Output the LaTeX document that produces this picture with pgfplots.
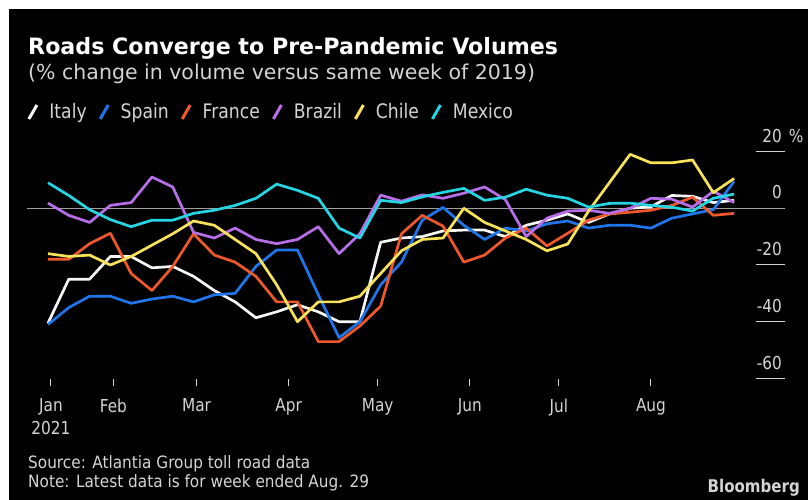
\documentclass[border=0pt]{standalone}
\usepackage{fontspec}
\setmainfont{DejaVu Sans}[FakeStretch=0.86]
\newfontfamily\headfont{DejaVu Sans}[FakeStretch=0.985]
\newfontfamily\subfont{DejaVu Sans}[FakeStretch=1.0]
\newfontfamily\notefont{DejaVu Sans}[FakeStretch=0.9]
\usepackage{pgfplots}
\pgfplotsset{compat=1.18}
\usepackage{pgfplotstable}

\definecolor{italyc}{RGB}{246,246,246}
\definecolor{spainc}{RGB}{30,118,234}
\definecolor{francec}{RGB}{240,88,44}
\definecolor{brazilc}{RGB}{184,110,232}
\definecolor{chilec}{RGB}{247,226,88}
\definecolor{mexicoc}{RGB}{36,214,228}
\definecolor{labelgray}{RGB}{212,212,212}
\definecolor{zerogray}{RGB}{160,160,160}

% weekly toll road volumes, % change vs same week of 2019
% day = days since 1 Jan 2021 (week ended Jan 10 ... Aug 29)
\pgfplotstableread{
day italy spain france brazil chile mexico
9   -40.5 -41   -18   1.8   -16   9
16  -25   -35   -18   -2.5  -17   4.5
23  -25   -31   -12.5 -5    -16.5 -0.5
30  -17   -31   -8.8  1     -20   -4
37  -17   -33.5 -23   2     -17   -6.5
44  -21   -32   -29   11    -13   -4.2
51  -20.5 -31   -20.5 7.5   -9    -4.2
58  -24   -33   -9    -8.5  -4.5  -1.8
65  -29   -30.5 -16.5 -10.5 -6    -0.7
72  -33   -30   -19   -7    -11   1
79  -38.6 -20.5 -24   -11   -16   3.5
86  -36.5 -14.7 -33   -12.5 -27   8.5
93  -34   -14.7 -33   -11   -40   6.3
100 -36.5 -30.5 -47   -6.5  -33   3.5
107 -40   -45.6 -47   -16   -33   -7
114 -40   -40   -41.5 -9    -31   -10.5
121 -12   -27   -34.5 4.6   -23   2.8
128 -10.5 -19   -9    2.5   -15   2
135 -10   -4.2  -2.5  4.7   -11   4
142 -8    0.3   -6.3  3.5   -10.5 5.6
149 -7.7  -6    -19   5.3   0     7
156 -7.7  -11   -16.5 7.5   -5    2.8
163 -10   -7    -10.5 3     -8    3.9
170 -6    -8    -7    -10   -11   6.7
177 -4.2  -5.5  -13.3 -3.5  -15   4.6
184 -2    -4.5  -8.8  -1    -12.6 3.5
191 -5    -7    -4.2  -0.7  -1    0.4
198 -2    -6    -2    -1.8  9     1.7
205 0     -6    -1.4  0     19    1.8
212 0.5   -7    -0.7  3.5   16    1
219 4.5   -3.5  1     3.2   16    0.4
226 4.2   -2    3.9   0.4   17    -1
233 2     -0.5  -2.5  6     5.5   3.5
240 2.8   9.5   -1.8  2     10.5  5
}\roads

\newcommand\px[1]{\fontsize{#1bp}{1.25\dimexpr#1bp\relax}\selectfont}

\begin{document}
\begin{tikzpicture}
\useasboundingbox (0,0) rectangle (808bp,500bp);
\fill[white] (0,0) rectangle (808bp,500bp);
\fill[black] (9bp,0) rectangle (808bp,491bp);

% headings
\node[anchor=base west, inner sep=0pt, text=white] at (28bp,445bp)
  {\headfont\px{22.5}\bfseries Roads Converge to Pre-Pandemic Volumes};
\node[anchor=base west, inner sep=0pt, text=labelgray] at (28bp,420.5bp)
  {\subfont\px{20.5}(\% change in volume versus same week of 2019)};

% footer
\node[anchor=base west, inner sep=0pt, text=labelgray] at (28bp,32bp)
  {\notefont\px{17}Source: Atlantia Group toll road data};
\node[anchor=base west, inner sep=0pt, text=labelgray] at (28bp,13bp)
  {\notefont\px{17}Note: Latest data is for week ended Aug. 29};
\node[anchor=base east, inner sep=0pt, text=labelgray] at (800bp,8bp)
  {\px{17.5}\bfseries Bloomberg};

\begin{axis}[
  at={(27.2bp,121.5bp)}, anchor=south west,
  scale only axis, width=757.4bp, height=241.2bp,
  xmin=2, xmax=257, ymin=-60, ymax=25,
  axis x line*=bottom, axis y line*=right,
  axis line style={draw=none},
  xtick={10,31,59,90,120,151,181,212},
  xticklabels={Jan\\2021,Feb,Mar,Apr,May,Jun,Jul,Aug},
  ytick={-60,-40,-20,0,20},
  yticklabels={-60,-40,-20,0,{20\rlap{\hspace{7bp}\%}}},
  xtick align=outside, ytick align=inside,
  xtick style={draw=labelgray, line width=1bp, /pgfplots/major tick length=7bp},
  ytick style={draw=labelgray, line width=1bp, /pgfplots/major tick length=29bp},
  xticklabel style={align=center, anchor=north, inner sep=0pt, yshift=-16bp,
    text=labelgray, font=\fontsize{17.8bp}{22.5bp}\selectfont},
  yticklabel style={anchor=south east, inner sep=0pt, xshift=-2.5bp, yshift=9bp,
    text=labelgray, font=\px{17.8}},
  legend columns=-1,
  legend style={at={(axis description cs:0,1.105)}, anchor=west,
    draw=none, fill=none, text=labelgray, font=\px{20}, inner sep=0pt,
    /tikz/every odd column/.append style={column sep=9bp},
    /tikz/every even column/.append style={column sep=10bp}},
  legend image code/.code={%
    \draw[#1, line width=3bp] (0bp,-7bp) -- (8bp,7bp);},
  every axis plot/.append style={line width=2.7bp, line join=round},
]
\addplot[zerogray, line width=1.3bp, forget plot] coordinates {(2,0) (257,0)};
\addplot[italyc]   table[x=day, y=italy]  {\roads};
\addplot[spainc]   table[x=day, y=spain]  {\roads};
\addplot[francec]  table[x=day, y=france] {\roads};
\addplot[brazilc]  table[x=day, y=brazil] {\roads};
\addplot[chilec]   table[x=day, y=chile]  {\roads};
\addplot[mexicoc]  table[x=day, y=mexico] {\roads};
\legend{Italy, Spain, France, Brazil, Chile, Mexico}
\end{axis}
\end{tikzpicture}
\end{document}
